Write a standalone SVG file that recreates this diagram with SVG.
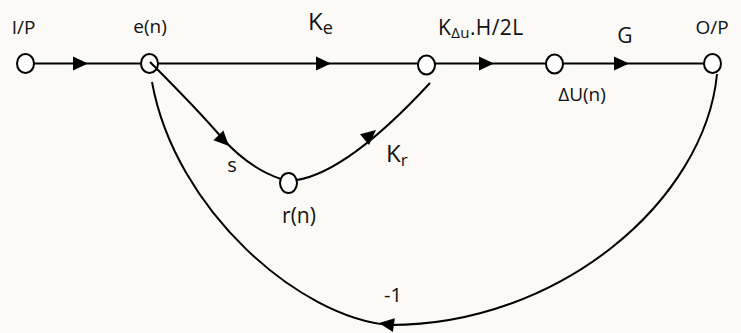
<svg xmlns="http://www.w3.org/2000/svg" width="741" height="333" viewBox="0 0 741 333">
<style>
.w{fill:none;stroke:#000;stroke-width:2}
.n{fill:#fff;stroke:#000;stroke-width:2}
.h{fill:none;stroke:#000;stroke-width:2}
text{font-family:"Open Sans","Noto Sans","Liberation Sans",sans-serif;fill:#111}
.l{font-size:19px}
.b{font-size:21px}
</style>
<defs>
<path id="ah" d="M0,0 L-15,-7 L-15,7 Z" fill="#000"/>
</defs>
<rect width="741" height="333" fill="#fcfaf7"/>
<g id="connectors">
<line class="w" x1="34" y1="63.5" x2="141" y2="63.5"/>
<line class="w" x1="158" y1="63.5" x2="418" y2="63.5"/>
<line class="w" x1="435" y1="63.5" x2="546" y2="63.5"/>
<line class="w" x1="563" y1="63.5" x2="704" y2="63.5"/>
<path class="w" d="M150,62 C180,92 200,112 222,138 C240,158 260,172 281,179"/>
<path class="w" d="M430,83 C405,110 345,172 297,180"/>
<path class="w" d="M717,74 C705,200 560,325 390,325 C300,318 175,210 152,82"/>
<use href="#ah" transform="translate(88,63.5)"/>
<use href="#ah" transform="translate(331,63.5)"/>
<use href="#ah" transform="translate(494,63.5)"/>
<use href="#ah" transform="translate(629,63.5)"/>
<use href="#ah" transform="translate(229,146) rotate(45)"/>
<use href="#ah" transform="translate(376,130) rotate(-40)"/>
<use href="#ah" transform="translate(379,323) rotate(188)"/>
</g>
<g id="node-ip"><ellipse class="n" cx="25.5" cy="63.5" rx="8.5" ry="9.5"/><text class="l" x="23.5" y="34" text-anchor="middle">I/P</text></g>
<g id="node-en"><ellipse class="h" cx="149.5" cy="63.5" rx="8.5" ry="9.5"/><text class="l" x="150" y="33" text-anchor="middle">e(n)</text></g>
<g id="node-ke"><ellipse class="n" cx="426.5" cy="65" rx="8.5" ry="9.5"/></g>
<g id="node-du"><ellipse class="n" cx="554.5" cy="64" rx="8.5" ry="9.5"/><text class="l" x="582" y="101" text-anchor="middle" font-size="20">ΔU(n)</text></g>
<g id="node-op"><ellipse class="n" cx="712.5" cy="63.5" rx="8.5" ry="9.5"/><text class="l" x="712" y="34" text-anchor="middle">O/P</text></g>
<g id="node-rn"><ellipse class="n" cx="288.5" cy="183" rx="8.5" ry="10"/><text class="b" x="299" y="223" text-anchor="middle">r(n)</text></g>
<g id="labels">
<text x="308" y="30" font-size="24">K<tspan font-size="18" dy="4">e</tspan></text>
<text x="438" y="35" font-size="21" letter-spacing="0.4">K<tspan font-size="15" dy="3">Δu</tspan><tspan dy="-3">.H/2L</tspan></text>
<text x="625" y="43" font-size="21" text-anchor="middle">G</text>
<text x="232" y="172" font-size="20" text-anchor="middle">s</text>
<text x="386" y="162" font-size="24">K<tspan font-size="17" dy="4">r</tspan></text>
<text x="393" y="302" font-size="20" text-anchor="middle">-1</text>
</g>
</svg>
